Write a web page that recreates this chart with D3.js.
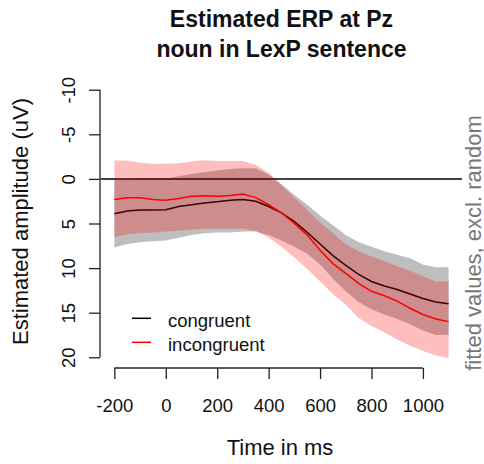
<!DOCTYPE html>
<html>
<head>
<meta charset="utf-8">
<script src="https://cdn.jsdelivr.net/npm/d3@7"></script>
<style>
  body { margin: 0; background: #fff; }
  svg { font-family: "Liberation Sans", Arial, sans-serif; }
</style>
</head>
<body>
<div id="wrapper"></div>
<script>
// time points (ms)
const times = [-200, -150, -100, -50, 0, 50, 100, 150, 200, 250, 300, 350, 400, 450,
    500, 550, 600, 650, 700, 750, 800, 850, 900, 950, 1000, 1050, 1100];

// congruent: fitted value and band
const congruent = [3.9, 3.6, 3.5, 3.5, 3.45, 3.1, 2.9, 2.7, 2.55, 2.4, 2.3, 2.5, 3.1, 3.8,
    4.8, 6.0, 7.3, 8.6, 9.7, 10.7, 11.5, 12.0, 12.4, 12.9, 13.4, 13.8, 14.0];
const congruent_upper = [0.05, 0, -0.05, -0.05, -0.05, -0.3, -0.55, -0.75, -0.95, -1.1, -1.2, -1.2, -0.5, 0.6,
    1.8, 2.9, 4.1, 5.2, 6.3, 7.1, 7.6, 8.1, 8.5, 8.9, 9.6, 9.9, 9.9];
const congruent_lower = [7.7, 7.3, 7.1, 7.0, 6.9, 6.6, 6.3, 6.1, 6.0, 6.0, 5.9, 5.9, 6.3, 6.9,
    7.6, 8.4, 9.6, 11.2, 12.6, 13.8, 14.6, 15.2, 15.7, 16.3, 17.0, 17.5, 17.5];

// incongruent: fitted value and band
const incongruent = [2.3, 2.1, 2.1, 2.3, 2.4, 2.2, 1.95, 1.9, 1.95, 1.85, 1.7, 2.1, 2.9, 3.8,
    5.0, 6.3, 8.0, 9.5, 10.6, 11.7, 12.6, 13.1, 13.7, 14.5, 15.2, 15.7, 16.0];
const incongruent_upper = [-2.06, -2.06, -1.8, -1.7, -1.7, -1.75, -1.95, -2.1, -2.0, -2.0, -2.0, -1.6, -0.7, 0.7,
    2.1, 3.5, 4.9, 6.1, 7.3, 8.1, 8.7, 9.2, 9.8, 10.3, 10.9, 11.5, 11.5];
const incongruent_lower = [6.5, 6.2, 6.1, 6.0, 5.9, 5.8, 5.7, 5.6, 5.6, 5.6, 5.6, 5.8, 6.6, 7.6,
    8.8, 10.1, 11.5, 12.9, 14.1, 15.6, 16.5, 17.2, 18.0, 18.7, 19.3, 19.8, 20.1];

const x_ticks = [-200, 0, 200, 400, 600, 800, 1000];
const y_ticks = [-10, -5, 0, 5, 10, 15, 20];
const legend_labels = ["congruent", "incongruent"];
const legend_colors = ["#000000", "#ff0000"];

function drawChart() {
    const dimensions = {
        width: 484,
        height: 464,
        left: 101,
        right: 462,
        top: 79,
        bottom: 368
    };

    const svg = d3.select("#wrapper")
        .append("svg")
        .attr("width", dimensions.width)
        .attr("height", dimensions.height);

    // R style: 4% padding round the data range
    const x_scale = d3.scaleLinear()
        .domain([-252, 1152])
        .range([dimensions.left, dimensions.right]);

    const y_scale = d3.scaleLinear()
        .domain([-11.2, 21.2])
        .range([dimensions.top, dimensions.bottom]);

    svg.append("clipPath").attr("id", "plot_clip")
        .append("rect")
        .attr("x", dimensions.left)
        .attr("y", dimensions.top)
        .attr("width", dimensions.right - dimensions.left)
        .attr("height", dimensions.bottom - dimensions.top);

    const plot = svg.append("g").attr("clip-path", "url(#plot_clip)");

    const band = (lower, upper) => d3.area()
        .x((d, i) => x_scale(times[i]))
        .y0((d, i) => y_scale(lower[i]))
        .y1((d, i) => y_scale(upper[i]));

    const line = values => d3.line()
        .x((d, i) => x_scale(times[i]))
        .y((d, i) => y_scale(values[i]));

    plot.append("path")
        .datum(times)
        .attr("d", band(congruent_lower, congruent_upper))
        .attr("fill", "#bebebe");

    plot.append("line")
        .attr("x1", dimensions.left)
        .attr("x2", dimensions.right)
        .attr("y1", y_scale(0))
        .attr("y2", y_scale(0))
        .attr("stroke", "#000")
        .attr("stroke-width", 1.5);

    plot.append("path")
        .datum(times)
        .attr("d", line(congruent))
        .attr("fill", "none")
        .attr("stroke", "#000")
        .attr("stroke-width", 1.5);

    plot.append("path")
        .datum(times)
        .attr("d", line(incongruent))
        .attr("fill", "none")
        .attr("stroke", "#ff0000")
        .attr("stroke-width", 1.5);

    // transparent red band drawn on top
    plot.append("path")
        .datum(times)
        .attr("d", band(incongruent_lower, incongruent_upper))
        .attr("fill", "#ff0000")
        .attr("fill-opacity", 0.255);

    // axes
    const x_axis = svg.append("g")
        .attr("transform", `translate(0, ${dimensions.bottom})`)
        .call(d3.axisBottom(x_scale).tickValues(x_ticks).tickFormat(d => String(d))
            .tickSize(11).tickSizeOuter(0));
    x_axis.select(".domain")
        .attr("d", `M${x_scale(-200)},0H${x_scale(1000)}`);

    const y_axis = svg.append("g")
        .attr("transform", `translate(${dimensions.left - 1}, 0)`)
        .call(d3.axisLeft(y_scale).tickValues(y_ticks).tickFormat(d => String(d))
            .tickSize(11).tickSizeOuter(0));
    y_axis.select(".domain")
        .attr("d", `M0,${y_scale(-10)}V${y_scale(20)}`);

    svg.selectAll(".domain, .tick line")
        .attr("stroke", "#222")
        .attr("stroke-width", 1.3);

    x_axis.selectAll(".tick text")
        .attr("y", 0)
        .attr("dy", null)
        .attr("transform", "translate(0, 43.7)")
        .attr("fill", "#111")
        .style("font-size", "18.5px");

    y_axis.selectAll(".tick text")
        .attr("x", null)
        .attr("dy", null)
        .attr("transform", `translate(${75 - dimensions.left + 1}, 0) rotate(-90)`)
        .attr("text-anchor", "middle")
        .attr("fill", "#111")
        .style("font-size", "18.5px");

    // titles
    const title = svg.append("text")
        .attr("x", 281.5)
        .attr("text-anchor", "middle")
        .attr("font-weight", "bold")
        .attr("fill", "#111")
        .style("font-size", "23px");
    title.append("tspan").attr("x", 281.5).attr("y", 27.3).text("Estimated ERP at Pz");
    title.append("tspan").attr("x", 281.5).attr("y", 57.3).text("noun in LexP sentence");

    svg.append("text")
        .attr("x", 280)
        .attr("y", 455)
        .attr("text-anchor", "middle")
        .attr("fill", "#111")
        .style("font-size", "22px")
        .text("Time in ms");

    svg.append("text")
        .attr("transform", "translate(27.7, 221.5) rotate(-90)")
        .attr("text-anchor", "middle")
        .attr("fill", "#111")
        .style("font-size", "22px")
        .text("Estimated amplitude (uV)");

    svg.append("text")
        .attr("transform", "translate(480.5, 243) rotate(-90)")
        .attr("text-anchor", "middle")
        .attr("fill", "#777")
        .style("font-size", "22px")
        .text("fitted values, excl. random");

    // legend
    const legend = svg.append("g");
    legend_labels.forEach((label, i) => {
        const y = 318.3 + i * 24;
        legend.append("line")
            .attr("x1", 132).attr("x2", 151)
            .attr("y1", y).attr("y2", y)
            .attr("stroke", legend_colors[i])
            .attr("stroke-width", 1.5);
        legend.append("text")
            .attr("x", 168)
            .attr("y", y + 8.3)
            .attr("fill", "#111")
            .style("font-size", "18.5px")
            .text(label);
    });
}

drawChart();
</script>
</body>
</html>
